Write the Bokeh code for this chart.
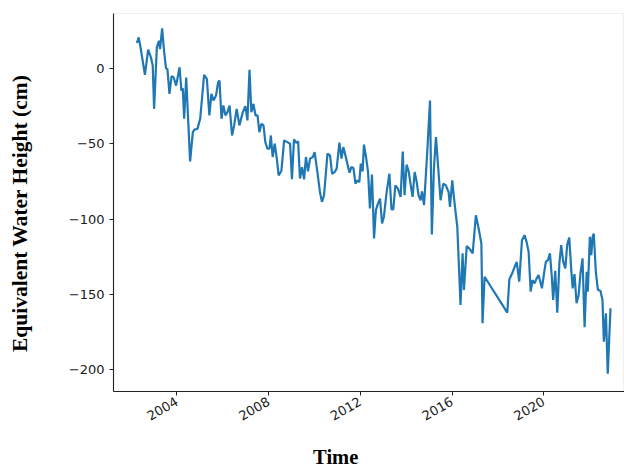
from bokeh.plotting import figure
from bokeh.models import FixedTicker, Range1d
from bokeh.embed import file_html
from bokeh.resources import INLINE

# decimal year of each GRACE / GRACE-FO sample
years = [
    2002.26, 2002.34, 2002.43, 2002.61, 2002.75, 2002.87, 2002.95, 2003.01, 2003.13, 2003.22,
    2003.27, 2003.36, 2003.45, 2003.53, 2003.59, 2003.68, 2003.77, 2003.86, 2003.97, 2004.12,
    2004.20, 2004.26, 2004.32, 2004.41, 2004.58, 2004.70, 2004.78, 2004.90, 2005.02, 2005.19,
    2005.31, 2005.42, 2005.51, 2005.60, 2005.71, 2005.80, 2005.86, 2005.95, 2006.03, 2006.12,
    2006.21, 2006.30, 2006.41, 2006.50, 2006.61, 2006.73, 2006.88, 2006.99, 2007.08, 2007.17,
    2007.25, 2007.34, 2007.43, 2007.52, 2007.60, 2007.69, 2007.78, 2007.86, 2007.95, 2008.04,
    2008.10, 2008.18, 2008.27, 2008.36, 2008.44, 2008.56, 2008.68, 2008.82, 2008.94, 2009.02,
    2009.11, 2009.20, 2009.29, 2009.37, 2009.46, 2009.55, 2009.63, 2009.72, 2009.81, 2009.93,
    2010.01, 2010.13, 2010.24, 2010.33, 2010.42, 2010.57, 2010.68, 2010.77, 2010.88, 2010.97,
    2011.09, 2011.18, 2011.26, 2011.35, 2011.53, 2011.61, 2011.70, 2011.79, 2011.87, 2011.96,
    2012.02, 2012.10, 2012.16, 2012.25, 2012.34, 2012.42, 2012.51, 2012.60, 2012.68, 2012.77,
    2012.86, 2012.95, 2013.03, 2013.15, 2013.27, 2013.36, 2013.44, 2013.53, 2013.64, 2013.76,
    2013.85, 2013.93, 2014.02, 2014.11, 2014.20, 2014.28, 2014.37, 2014.46, 2014.54, 2014.63,
    2014.69, 2014.78, 2014.92, 2015.04, 2015.12, 2015.21, 2015.30, 2015.39, 2015.50, 2015.62,
    2015.73, 2015.85, 2015.91, 2016.01, 2016.08, 2016.16, 2016.23, 2016.37, 2016.46, 2016.52,
    2016.64, 2016.75, 2016.90, 2017.04, 2017.16, 2017.28, 2017.33, 2017.42, 2018.41, 2018.50,
    2018.61, 2018.73, 2018.82, 2018.93, 2019.05, 2019.16, 2019.25, 2019.34, 2019.43, 2019.51,
    2019.60, 2019.69, 2019.77, 2019.83, 2019.92, 2020.00, 2020.09, 2020.18, 2020.27, 2020.35,
    2020.41, 2020.50, 2020.59, 2020.68, 2020.76, 2020.85, 2020.94, 2021.02, 2021.11, 2021.20,
    2021.26, 2021.34, 2021.43, 2021.52, 2021.60, 2021.69, 2021.78, 2021.87, 2021.92, 2022.01,
    2022.07, 2022.13, 2022.18, 2022.27, 2022.36, 2022.47, 2022.56, 2022.62, 2022.71, 2022.79,
    2022.91,
]

# equivalent water height (cm)
ewh = [
    17.0, 20.7, 13.0, -4.2, 12.6, 7.5, 2.0, -26.7, 14.1, 18.5,
    13.0, 26.7, 10.8, 0.2, -0.2, -16.8, -5.1, -5.7, -11.3, 0.9,
    -14.6, -13.0, -33.3, -6.0, -61.6, -42.2, -40.4, -40.0, -33.3, -4.2,
    -6.8, -31.0, -16.8, -21.2, -17.9, -9.1, -7.9, -33.3, -24.5, -31.0,
    -28.9, -24.5, -44.4, -37.7, -26.7, -37.7, -28.9, -25.0, -34.4, -0.7,
    -28.9, -23.4, -31.0, -31.0, -42.2, -36.6, -37.7, -48.8, -53.2, -53.2,
    -44.4, -58.7, -49.9, -59.8, -70.9, -68.0, -47.7, -48.8, -50.0, -73.5,
    -47.0, -49.2, -48.3, -73.0, -65.4, -73.5, -58.7, -68.2, -59.8, -58.7,
    -55.4, -68.7, -81.9, -88.5, -84.1, -56.5, -57.6, -69.8, -68.7, -66.4,
    -49.2, -59.8, -52.1, -57.6, -69.1, -65.4, -66.0, -76.4, -74.2, -75.3,
    -63.1, -68.2, -50.5, -58.7, -68.7, -92.9, -70.4, -112.8, -94.0, -89.6,
    -86.3, -102.8, -98.5, -81.9, -69.8, -93.4, -93.4, -77.5, -79.7, -85.2,
    -55.0, -84.1, -63.8, -68.2, -77.5, -85.2, -68.7, -75.3, -84.1, -87.4,
    -81.5, -90.7, -55.4, -21.2, -110.1, -66.4, -45.5, -64.2, -87.4, -76.4,
    -77.5, -81.9, -91.9, -74.2, -85.0, -96.0, -105.0, -157.0, -122.7, -147.0,
    -117.9, -119.4, -122.7, -97.4, -106.2, -116.1, -169.1, -138.2, -162.0, -139.9,
    -136.4, -131.6, -128.3, -141.5, -113.9, -110.6, -115.0, -121.7, -148.1, -140.4,
    -142.6, -139.3, -137.1, -140.4, -145.9, -137.1, -128.3, -127.2, -122.7, -138.2,
    -153.6, -134.2, -162.0, -129.3, -117.2, -128.3, -132.6, -117.2, -112.1, -133.8,
    -145.9, -136.4, -155.8, -150.3, -136.0, -126.0, -171.7, -134.9, -148.1, -111.7,
    -123.8, -111.7, -109.5, -134.9, -147.0, -147.5, -153.6, -181.3, -162.5, -202.6,
    -159.1,
]

x_ticks = [2004, 2008, 2012, 2016, 2020]
y_ticks = [0, -50, -100, -150, -200]
x_title = "Time"
y_title = "Equivalent Water Height (cm)"

p = figure(width=624, height=470, output_backend="svg", toolbar_location=None,
           x_range=Range1d(2001.24, 2023.52), y_range=Range1d(-214.4, 36.6),
           min_border_left=113, min_border_right=0, min_border_top=13, min_border_bottom=78)
p.background_fill_color = "white"
p.border_fill_color = "white"
p.outline_line_color = "#f0f0f0"
p.xgrid.visible = False
p.ygrid.visible = False

p.line(years, ewh, line_color="#1f77b4", line_width=2.2)

for ax in (p.xaxis[0], p.yaxis[0]):
    ax.axis_line_color = "#222222"
    ax.axis_line_width = 1.1
    ax.major_tick_line_color = "#222222"
    ax.major_tick_out = 4
    ax.major_tick_in = 0
    ax.minor_tick_line_color = None
    ax.major_label_text_font = "DejaVu Sans"
    ax.major_label_text_font_size = "13px"
    ax.major_label_text_color = "#1a1a1a"
    ax.major_label_standoff = 5
    ax.axis_label_text_font = "Liberation Serif"
    ax.axis_label_text_font_style = "bold"
    ax.axis_label_text_color = "black"

p.xaxis.ticker = FixedTicker(ticks=x_ticks)
p.xaxis.major_label_overrides = {t: str(t) for t in x_ticks}
p.xaxis.major_label_orientation = 0.5236
# trailing no-break spaces shift the visible title to where the original has it
p.xaxis.axis_label = x_title + "\u00a0" * 13
p.xaxis.axis_label_text_font_size = "20.5px"
p.xaxis.axis_label_standoff = 18

p.yaxis.ticker = FixedTicker(ticks=y_ticks)
p.yaxis.major_label_overrides = {t: (str(t).replace("-", "\u2212")) for t in y_ticks}
p.yaxis.axis_label = y_title + "\u00a0" * 4
p.yaxis.axis_label_text_font_size = "21.5px"
p.yaxis.axis_label_standoff = 34

open("out.html", "w").write(file_html(p, INLINE))
